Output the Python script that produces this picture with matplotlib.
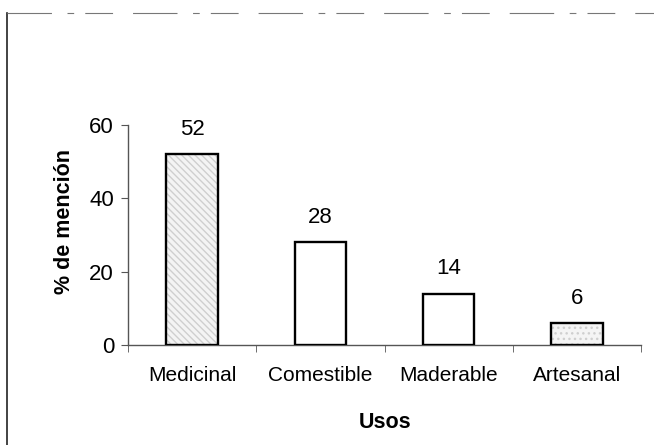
"""Bar chart: % de mención por uso."""

import matplotlib

matplotlib.use("Agg")

import matplotlib.pyplot as plt
from matplotlib.lines import Line2D

usos = ["Medicinal", "Comestible", "Maderable", "Artesanal"]
mencion = [52, 28, 14, 6]
y_ticks = [0, 20, 40, 60]

plt.rcParams["font.family"] = ["Liberation Sans", "DejaVu Sans"]

fig = plt.figure(figsize=(6.54, 4.45), dpi=100)
ax = fig.add_axes([128 / 654, 1 - 345 / 445, 513 / 654, 220 / 445])

x = list(range(len(usos)))
hatches = ["\\\\\\\\\\", None, None, "..."]

# faint texture first, then the black outline on top
for xi, val, h in zip(x, mencion, hatches):
    if h:
        ax.bar(xi, val, width=0.4, color="#f4f4f4", edgecolor="#cfcfcf",
               hatch=h, linewidth=0, zorder=2)
ax.bar(x, mencion, width=0.4, color="none", edgecolor="black",
       linewidth=1.7, zorder=3)

for xi, val in zip(x, mencion):
    ax.annotate(str(val), (xi, val), textcoords="offset points",
                xytext=(0, 18), ha="center", va="center", fontsize=16)

ax.set_xlim(-0.5, len(usos) - 0.5)
ax.set_ylim(0, 60)
ax.set_yticks(y_ticks)
ax.set_xticks(x)
ax.set_xticklabels(usos)
ax.set_xticks([i - 0.5 for i in range(len(usos) + 1)], minor=True)
ax.tick_params(axis="x", which="major", length=0, pad=15, labelsize=15)
ax.tick_params(axis="x", which="minor", length=5, color="#555555", direction="out")
ax.tick_params(axis="y", length=5, color="#555555", pad=5, labelsize=16)

for side in ("top", "right"):
    ax.spines[side].set_visible(False)
for side in ("left", "bottom"):
    ax.spines[side].set_color("#555555")
    ax.spines[side].set_linewidth(1.0)

fig.text(65 / 654, 1 - 222 / 445, "% de mención", rotation=90,
         ha="center", va="center", fontsize=15.5, fontweight="bold")
fig.text(385 / 654, 1 - 423 / 445, "Usos", ha="center", va="center",
         fontsize=15.5, fontweight="bold")

# scanned page border
fig.add_artist(Line2D([7 / 654, 7 / 654], [0, 1 - 13 / 445],
                      color="#222222", linewidth=1.2))
fig.add_artist(Line2D([7 / 654, 1], [1 - 13 / 445, 1 - 13 / 445],
                      color="#777777", linewidth=0.8,
                      linestyle=(0, (40, 14, 6, 10, 25, 18))))

fig.savefig("out.png", dpi=100)
